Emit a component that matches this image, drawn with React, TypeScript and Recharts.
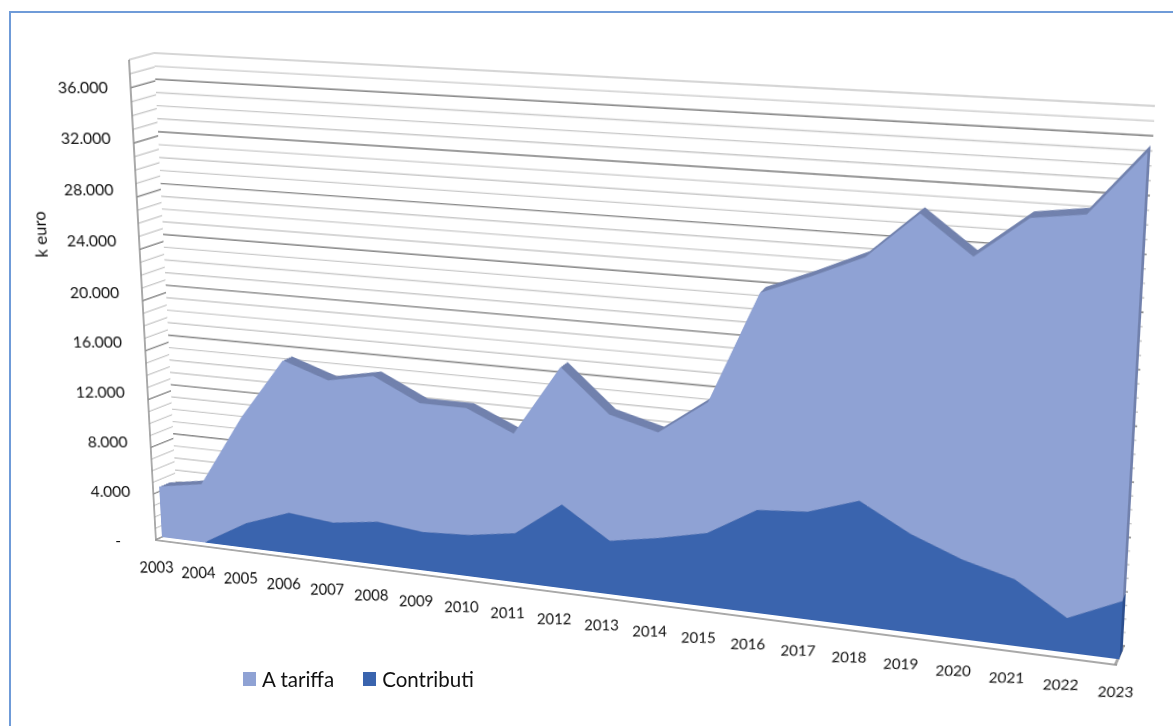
import { AreaChart, Area, XAxis, YAxis, CartesianGrid, Legend } from 'recharts';

const years = ['2003', '2004', '2005', '2006', '2007', '2008', '2009', '2010', '2011', '2012', '2013', '2014', '2015', '2016', '2017', '2018', '2019', '2020', '2021', '2022', '2023'];
const aTariffa = [4200, 4800, 8610, 12220, 11370, 11540, 10180, 9980, 7780, 10550, 9740, 8080, 9920, 16100, 17320, 17700, 23100, 21830, 25820, 28710, 31400];
const contributi = [0, 0, 2030, 3330, 2960, 3480, 3100, 3300, 3900, 6600, 4190, 4870, 5700, 7900, 8200, 9470, 7420, 5970, 4950, 2570, 4320];
const majorTicks = [0, 4000, 8000, 12000, 16000, 20000, 24000, 28000, 32000, 36000];
const minorTicks = Array.from({ length: 39 }, (_, i) => i * 1000);

const data = years.map((year, i) => ({ year, aTariffa: aTariffa[i], contributi: contributi[i] }));

type Pt = [number, number];
type Quad = [Pt, Pt, Pt, Pt]; // top-left, top-right, bottom-right, bottom-left

// the 3D box of the original chart, front and back planes
const FRONT: Quad = [[128, 60], [1147, 123], [1117, 665], [155, 540]];
const BACK: Quad = [[154, 53], [1155, 106], [1125, 646], [178, 530]];

const mix = (a: Quad, b: Quad, t: number) =>
  a.map((p, i) => [p[0] + (b[i][0] - p[0]) * t, p[1] + (b[i][1] - p[1]) * t]) as Quad;

// css matrix that sends the plot rectangle of a chart onto a quad of the page
function warp(q: Quad, l: number, t: number, W: number, H: number) {
  const [[x0, y0], [x1, y1], [x2, y2], [x3, y3]] = q;
  const dx1 = x1 - x2, dx2 = x3 - x2, sx = x0 - x1 + x2 - x3;
  const dy1 = y1 - y2, dy2 = y3 - y2, sy = y0 - y1 + y2 - y3;
  const den = dx1 * dy2 - dx2 * dy1;
  const g = (sx * dy2 - dx2 * sy) / den;
  const h = (dx1 * sy - sx * dy1) / den;
  const a = x1 - x0 + g * x1, b = x3 - x0 + h * x3;
  const d = y1 - y0 + g * y1, e = y3 - y0 + h * y3;
  const m = [
    a / W, d / W, 0, g / W,
    b / H, e / H, 0, h / H,
    0, 0, 1, 0,
    x0 - (a * l) / W - (b * t) / H, y0 - (d * l) / W - (e * t) / H, 0, 1 - (g * l) / W - (h * t) / H,
  ];
  return `matrix3d(${m.join(',')})`;
}

const layer = (q: Quad, l = 5, t = 5, W = 1000, H = 500): React.CSSProperties => ({
  position: 'absolute',
  left: 0,
  top: 0,
  transformOrigin: '0 0',
  transform: warp(q, l, t, W, H),
});

const M = { top: 5, right: 5, bottom: 5, left: 5 };
const LIGHT = '#8fa2d4';
const DARK = '#3a64ae';
const TEXT = '#111111';
const NoTick = () => <g />;

function Wall({ quad, width = 1000, edge }: { quad: Quad; width?: number; edge?: boolean }) {
  return (
    <div style={layer(quad, 5, 5, width, 500)}>
      <AreaChart width={width + 10} height={510} data={data} margin={M}>
        <XAxis dataKey="year" scale="point" hide />
        {edge ? (
          <YAxis domain={[0, 38000]} width={1} interval={0} tick={NoTick} tickLine={false} axisLine={{ stroke: '#8c8c8c', strokeWidth: 1.5 }} />
        ) : (
          <YAxis domain={[0, 38000]} interval={0} hide />
        )}
        <CartesianGrid vertical={false} horizontalValues={minorTicks} stroke="#c9c9c9" strokeWidth={1.4} />
        <CartesianGrid vertical={false} horizontalValues={majorTicks} stroke="#8a8a8a" strokeWidth={1.4} />
        <Area dataKey="contributi" stroke="none" fillOpacity={0} dot={false} activeDot={false} isAnimationActive={false} />
      </AreaChart>
    </div>
  );
}

function Slab({ quad, light, dark }: { quad: Quad; light: string; dark: string }) {
  return (
    <div style={layer(quad)}>
      <AreaChart width={1010} height={510} data={data} margin={M}>
        <XAxis dataKey="year" scale="point" hide />
        <YAxis domain={[0, 38000]} hide allowDataOverflow />
        <Area type="linear" dataKey="contributi" stackId="a" stroke="none" fill={dark} fillOpacity={1} isAnimationActive={false} />
        <Area type="linear" dataKey="aTariffa" stackId="a" stroke="none" fill={light} fillOpacity={1} isAnimationActive={false} />
      </AreaChart>
    </div>
  );
}

// labels stay upright and of equal size although their layer is warped
function YearTick({ x, y, payload, index }: any) {
  const u = index / 20;
  const size = 15.5 / (0.88 + 0.22 * u);
  return (
    <g transform={`translate(${x - 16 * u * (1 - u)},${y})`}>
      <text transform="skewY(-7.4)" textAnchor="middle" dy={28 - 4.5 * u} fontSize={size} fill={TEXT}>
        {payload.value}
      </text>
    </g>
  );
}

const formatTick = (v: number) => (v === 0 ? '-\u00a0\u00a0\u00a0' : String(v).replace(/(\d)(\d{3})$/, '$1.$2'));

function LegendRow({ payload }: any) {
  return (
    <div style={{ display: 'flex', gap: 29, alignItems: 'center' }}>
      {payload.map((entry: any) => (
        <div key={entry.value} style={{ display: 'flex', alignItems: 'center', gap: 6, fontSize: 20.5, color: TEXT }}>
          <span style={{ width: 13, height: 14, background: entry.color, display: 'inline-block' }} />
          {entry.value}
        </div>
      ))}
    </div>
  );
}

export default function App() {
  return (
    <div style={{ position: 'absolute', left: 0, top: 0, width: 1173, height: 726, overflow: 'hidden', background: '#fff', fontFamily: 'Lato' }}>
      <div style={{ position: 'absolute', left: 9, top: 11, right: -5, bottom: -5, borderLeft: '2px solid #6f9bd8', borderTop: '2px solid #6f9bd8' }} />

      <Wall quad={BACK} />
      <Wall quad={[FRONT[0], BACK[0], BACK[3], FRONT[3]]} width={26} edge />

      {/* floor, only its right edge shows */}
      <div style={layer([FRONT[3], FRONT[2], BACK[2], BACK[3]], 5, 5, 1000, 20)}>
        <AreaChart width={1010} height={30} data={data} margin={M}>
          <XAxis dataKey="year" scale="point" hide />
          <YAxis orientation="right" domain={[0, 38000]} width={1} tick={false} tickLine={false} axisLine={{ stroke: '#8c8c8c', strokeWidth: 1.5 }} />
          <Area dataKey="contributi" stroke="none" fillOpacity={0} dot={false} activeDot={false} isAnimationActive={false} />
        </AreaChart>
      </div>

      {/* depth of the areas, back to front */}
      <Slab quad={mix(FRONT, BACK, 0.7)} light="#7181ad" dark="#2b4e8e" />
      <Slab quad={mix(FRONT, BACK, 0.6)} light="#7181ad" dark="#2b4e8e" />
      <Slab quad={mix(FRONT, BACK, 0.5)} light="#7181ad" dark="#2b4e8e" />
      <Slab quad={mix(FRONT, BACK, 0.4)} light="#7181ad" dark="#2b4e8e" />
      <Slab quad={mix(FRONT, BACK, 0.3)} light={LIGHT} dark={DARK} />

      {/* year labels and front floor edge */}
      <div style={layer(FRONT, 40, 5)}>
        <AreaChart width={1080} height={560} data={data} margin={{ top: 5, right: 40, bottom: 0, left: 40 }}>
          <XAxis dataKey="year" scale="point" height={55} interval={0} tickLine={false} tick={YearTick} axisLine={{ stroke: '#8c8c8c', strokeWidth: 1.5 }} />
          <YAxis domain={[0, 38000]} hide />
        </AreaChart>
      </div>

      {/* value labels */}
      <div style={layer([[116, 87], [322, 87], [341, 541], [141, 541]], 110, 20, 200, 450)}>
        <AreaChart width={315} height={490} data={data} margin={{ top: 20, right: 5, bottom: 20, left: 0 }}>
          <XAxis dataKey="year" scale="point" hide />
          <YAxis
            width={110}
            domain={[0, 36000]}
            ticks={majorTicks}
            interval={0}
            tickLine={false}
            axisLine={false}
            tickFormatter={formatTick}
            tick={{ fontSize: 15.5, fill: TEXT }}
            label={{ value: 'k euro', angle: -90, position: 'insideLeft', offset: 28, dy: -59, style: { fontSize: 16.5, fill: TEXT } }}
          />
          <Area dataKey="contributi" stroke="none" fillOpacity={0} dot={false} activeDot={false} isAnimationActive={false} />
        </AreaChart>
      </div>

      <div style={{ position: 'absolute', left: 0, top: 0 }}>
        <AreaChart width={1173} height={726} data={data} margin={{ top: 0, right: 0, bottom: 0, left: 0 }}>
          <XAxis dataKey="year" scale="point" hide />
          <Area dataKey="aTariffa" name="A tariffa" stroke="none" fill={LIGHT} fillOpacity={0} dot={false} activeDot={false} legendType="square" isAnimationActive={false} />
          <Area dataKey="contributi" name="Contributi" stroke="none" fill={DARK} fillOpacity={0} dot={false} activeDot={false} legendType="square" isAnimationActive={false} />
          <Legend content={LegendRow} layout="horizontal" wrapperStyle={{ left: 243, top: 667, width: 400, bottom: 'auto' }} />
        </AreaChart>
      </div>
    </div>
  );
}
